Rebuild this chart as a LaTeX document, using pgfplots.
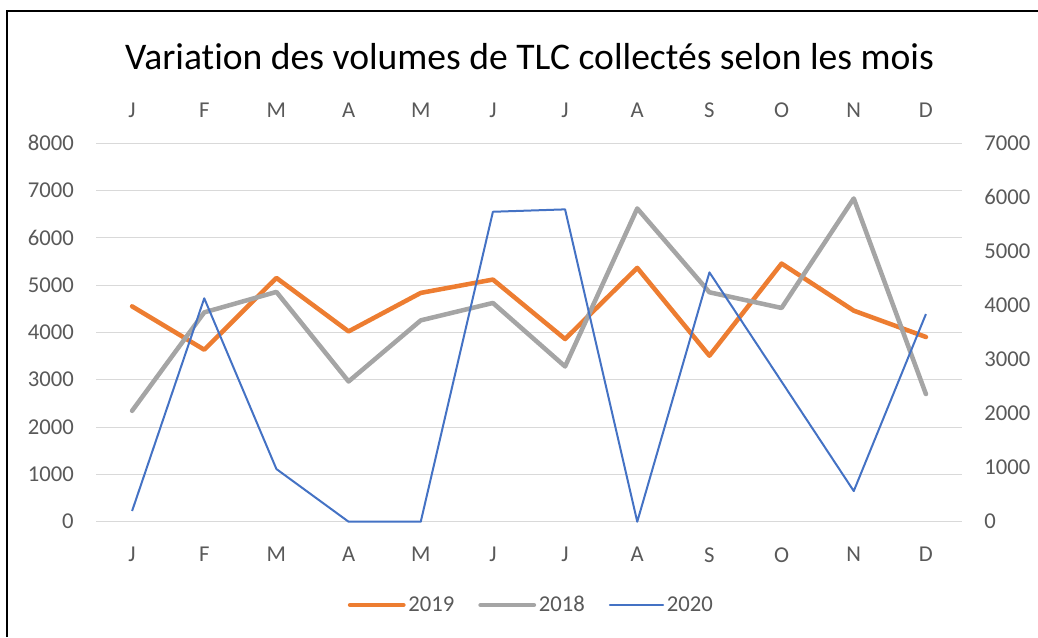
\documentclass[border=0pt]{standalone}
\usepackage{fontspec}
\setmainfont{Carlito}[Ligatures={NoCommon}]
\usepackage{pgfplots}
\pgfplotsset{compat=1.18}
\definecolor{c19}{HTML}{ED7D31}
\definecolor{c18}{HTML}{A5A5A5}
\definecolor{c20}{HTML}{4472C4}
\definecolor{gridc}{HTML}{D9D9D9}
\definecolor{lbl}{HTML}{595959}
\begin{document}
\begin{tikzpicture}[x=0.75pt,y=-0.75pt]
\useasboundingbox (0,0) rectangle (1038,637);
\draw[line width=1.5pt, black] (7,637) -- (7,11) -- (1038,11);
\node[font=\fontsize{28.2}{34}\selectfont, text=black] at (529.5,57) {Variation des volumes de TLC collectés selon les mois};
\pgfplotsset{
  common/.style={
    at={(72pt,-391.28pt)}, anchor=south west,
    scale only axis, width=649.5pt, height=284pt,
    xmin=-0.5, xmax=11.5, ymin=0,
    axis line style={draw=none},
    major tick length=0pt,
    xtick={0,...,11}, xticklabels={J,F,M,A,M,J,J,A,S,O,N,D},
    tick label style={font=\fontsize{17}{20}\selectfont, text=lbl},
    /pgf/number format/assume math mode=true,
    /pgf/number format/1000 sep={},
    clip=false,
  }
}
\begin{axis}[common,
  ymax=8000, ytick={0,1000,...,8000},
  axis x line*=bottom, axis y line*=left,
  ymajorgrids, grid style={gridc, line width=0.75pt},
  yticklabel style={inner sep=0pt, anchor=east, xshift=-16.5pt},
  xticklabel style={inner sep=0pt, anchor=north, yshift=-19pt},
]
\addplot[c19, line width=3.4pt, line cap=round, line join=round] coordinates {
 (0,4550) (1,3634) (2,5151) (3,4021) (4,4834) (5,5116) (6,3860) (7,5363) (8,3507) (9,5454) (10,4459) (11,3903)};
\addplot[c18, line width=3.4pt, line cap=round, line join=round] coordinates {
 (0,2343) (1,4423) (2,4855) (3,2963) (4,4254) (5,4622) (6,3280) (7,6618) (8,4847) (9,4516) (10,6830) (11,2696)};
\end{axis}
\begin{axis}[common,
  ymax=7000, ytick={0,1000,...,7000},
  axis x line*=top, axis y line*=right,
  yticklabel style={inner sep=0pt, anchor=west, xshift=16.5pt},
  xticklabel style={inner sep=0pt, anchor=south, yshift=19pt},
  legend style={draw=none, at={(0.503,-0.22)}, anchor=center, legend columns=3,
    font=\fontsize{17}{20}\selectfont, text=lbl,
    /tikz/every even column/.append style={column sep=16pt}},
  legend cell align=left,
  legend image code/.code={\draw[#1, line cap=round] (0pt,0pt) -- (40pt,0pt);},
]
\addlegendimage{c19, line width=3.4pt}
\addlegendentry{2019}
\addlegendimage{c18, line width=3.4pt}
\addlegendentry{2018}
\addplot[c20, line width=1.5pt, line join=round] coordinates {
 (0,198) (1,4130) (2,974) (3,0) (4,0) (5,5730) (6,5774) (7,0) (8,4610) (9,2590) (10,567) (11,3839)};
\addlegendentry{2020}
\end{axis}
\end{tikzpicture}
\end{document}
